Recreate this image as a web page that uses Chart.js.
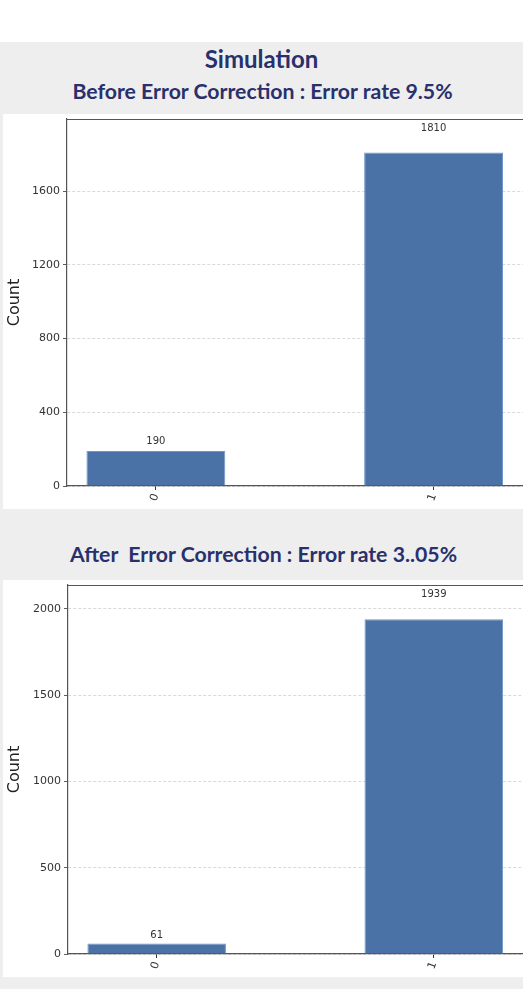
<!DOCTYPE html>
<html>
<head>
<meta charset="utf-8">
<script src="https://cdn.jsdelivr.net/npm/chart.js@4.4.0/dist/chart.umd.min.js"></script>
<style>
  html, body { margin: 0; padding: 0; overflow: hidden; width: 523px; height: 989px; background: #fff; }
  .page { position: absolute; left: 0; top: 42px; width: 523px; height: 947px; background: #eeeeee; }
  .title { position: absolute; left: 0; width: 523px; text-align: center; font-family: Lato, sans-serif; font-weight: bold; color: #29306c; white-space: nowrap; }
  .panel { position: absolute; left: 3px; width: 530px; background: #fff; }
</style>
</head>
<body>
<div class="page"></div>
<div class="title" style="top:44px;font-size:24px;">Simulation</div>
<div class="title" style="top:78px;font-size:21.25px;left:1px;">Before Error Correction : Error rate 9.5%</div>
<div class="panel" style="top:114px;height:395px;"><canvas id="chartBefore"></canvas></div>
<div class="title" style="top:541px;font-size:21.25px;left:2px;">After &nbsp;Error Correction : Error rate 3..05%</div>
<div class="panel" style="top:580px;height:397px;"><canvas id="chartAfter"></canvas></div>

<script>
// data
const categories = ["0", "1"];
const countsBefore = [190, 1810];
const countsAfter = [61, 1939];
const ticksBefore = [0, 400, 800, 1200, 1600];
const ticksAfter = [0, 500, 1000, 1500, 2000];

const barColor = "#4a72a6";
const tickFont = { family: "DejaVu Sans", size: 11 };

// top spine + value labels on the bars
const framePlugin = {
  id: "frame",
  afterDatasetsDraw(chart) {
    const { ctx, chartArea } = chart;
    ctx.save();
    ctx.strokeStyle = "#555";
    ctx.lineWidth = 1.2;
    ctx.beginPath();
    ctx.moveTo(chartArea.left, chartArea.top + 0.5);
    ctx.lineTo(chartArea.right, chartArea.top + 0.5);
    ctx.stroke();

    ctx.fillStyle = "#333";
    ctx.font = "10px 'DejaVu Sans'";
    ctx.textAlign = "center";
    ctx.textBaseline = "middle";
    const meta = chart.getDatasetMeta(0);
    meta.data.forEach((bar, i) => {
      const v = chart.data.datasets[0].data[i].y;
      ctx.fillText(String(v), bar.x, bar.y - (7.5 + v * 0.009));
    });
    ctx.restore();
  },
};

function createCountChart(canvasId, counts, yTicks, yMax, yAxisWidth) {
  const ctx = document.getElementById(canvasId).getContext("2d");
  return new Chart(ctx, {
    type: "bar",
    data: {
      datasets: [
        {
          data: counts.map((c, i) => ({ x: i, y: c })),
          backgroundColor: barColor,
          borderColor: "#7296c6",
          borderWidth: 1,
          borderSkipped: "bottom",
          categoryPercentage: 1,
          barPercentage: 0.5,
        },
      ],
    },
    options: {
      responsive: true,
      maintainAspectRatio: false,
      animation: false,
      layout: { padding: { top: 5, right: 5, left: 0, bottom: 0 } },
      plugins: { legend: { display: false }, tooltip: { enabled: false } },
      scales: {
        x: {
          type: "linear",
          offset: false,
          min: -0.32,
          max: 1.34,
          afterBuildTicks(scale) {
            scale.ticks = categories.map((c, i) => ({ value: i }));
          },
          afterFit(scale) {
            scale.height = 23;
          },
          ticks: {
            callback: (v) => categories[v],
            minRotation: 70,
            maxRotation: 70,
            color: "#333",
            font: tickFont,
            padding: 2,
          },
          grid: { offset: false, drawOnChartArea: false, drawTicks: true, tickLength: 4, tickColor: "#333" },
          border: { color: "#555", width: 1.2 },
        },
        y: {
          min: 0,
          max: yMax,
          afterBuildTicks(scale) {
            scale.ticks = yTicks.map((v) => ({ value: v }));
          },
          afterFit(scale) {
            scale.width = yAxisWidth;
            scale.paddingTop = 0;
            scale.paddingBottom = 0;
          },
          ticks: { color: "#333", font: tickFont, padding: 3, callback: (v) => String(v) },
          title: {
            display: true,
            text: "Count",
            color: "#222",
            font: { family: "DejaVu Sans", size: 16 },
            padding: { top: 2, bottom: 0 },
          },
          grid: {
            color: "#cfcfcf",
            lineWidth: 0.8,
            tickLength: 4,
            tickColor: "#333",
            tickBorderDash: [],
          },
          border: { color: "#555", width: 1.2, dash: [3, 2] },
        },
      },
    },
    plugins: [framePlugin],
  });
}

createCountChart("chartBefore", countsBefore, ticksBefore, 1992, 64);
createCountChart("chartAfter", countsAfter, ticksAfter, 2138, 65);
</script>
</body>
</html>
